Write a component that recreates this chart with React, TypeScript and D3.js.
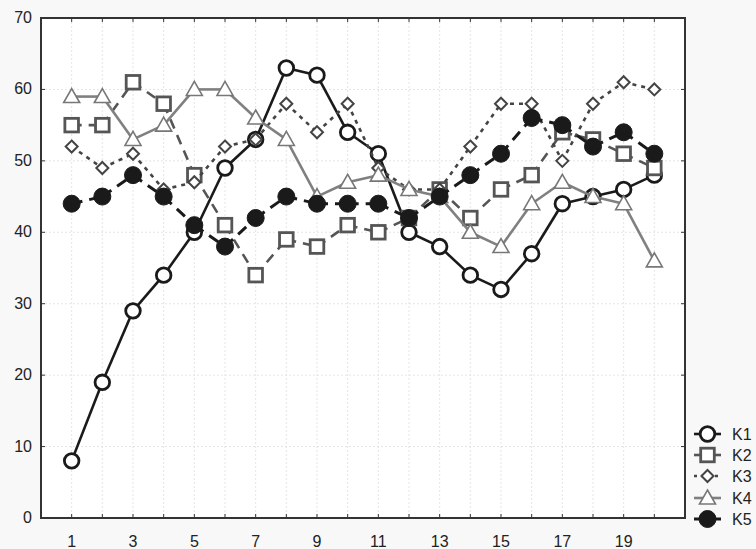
import React from "react";
import * as d3 from "d3";

const xs = d3.range(1, 21);
const k1 = [8, 19, 29, 34, 40, 49, 53, 63, 62, 54, 51, 40, 38, 34, 32, 37, 44, 45, 46, 48];
const k2 = [55, 55, 61, 58, 48, 41, 34, 39, 38, 41, 40, 42, 46, 42, 46, 48, 54, 53, 51, 49];
const k3 = [52, 49, 51, 46, 47, 52, 53, 58, 54, 58, 49, 46, 46, 52, 58, 58, 50, 58, 61, 60];
const k4 = [59, 59, 53, 55, 60, 60, 56, 53, 45, 47, 48, 46, 45, 40, 38, 44, 47, 45, 44, 36];
const k5 = [44, 45, 48, 45, 41, 38, 42, 45, 44, 44, 44, 42, 45, 48, 51, 56, 55, 52, 54, 51];
const seriesNames = ["K1", "K2", "K3", "K4", "K5"];
const xTickLabels = [1, 3, 5, 7, 9, 11, 13, 15, 17, 19];
const yTicks = [0, 10, 20, 30, 40, 50, 60, 70];

const W = 756, H = 549;
const L = 41, R = 685, T = 18, B = 518;

type Style = { color: string; dash: string; width: number; marker: string; fill: string; mstroke: string };
const styles: Style[] = [
  { color: "#1a1a1a", dash: "", width: 2.6, marker: "circle", fill: "#fff", mstroke: "#1a1a1a" },
  { color: "#555", dash: "10,7", width: 2.6, marker: "square", fill: "#fff", mstroke: "#555" },
  { color: "#444", dash: "4,5", width: 2.6, marker: "diamond", fill: "#fff", mstroke: "#444" },
  { color: "#808080", dash: "", width: 2.6, marker: "triangle", fill: "#fff", mstroke: "#777" },
  { color: "#1a1a1a", dash: "11,7", width: 3, marker: "fcircle", fill: "#1a1a1a", mstroke: "#1a1a1a" },
];

function Marker({ type, x, y, s }: { type: string; x: number; y: number; s: Style }) {
  if (type === "circle")
    return <circle cx={x} cy={y} r={7.3} fill={s.fill} stroke={s.mstroke} strokeWidth={2.8} />;
  if (type === "fcircle")
    return <circle cx={x} cy={y} r={8.5} fill={s.fill} stroke={s.mstroke} strokeWidth={1} />;
  if (type === "square")
    return <rect x={x - 6.8} y={y - 6.8} width={13.6} height={13.6} fill={s.fill} stroke={s.mstroke} strokeWidth={2.8} />;
  if (type === "diamond")
    return <path d={`M${x},${y - 6}L${x + 6},${y}L${x},${y + 6}L${x - 6},${y}Z`} fill={s.fill} stroke={s.mstroke} strokeWidth={2} />;
  return <path d={`M${x},${y - 8}L${x + 8},${y + 6}L${x - 8},${y + 6}Z`} fill={s.fill} stroke={s.mstroke} strokeWidth={1.6} />;
}

export default function App() {
  const x = d3.scaleLinear().domain([0, 21]).range([L, R]);
  const y = d3.scaleLinear().domain([0, 70]).range([B, T]);
  const data = [k1, k2, k3, k4, k5];
  const font = "'Liberation Sans', Arial, sans-serif";
  const legendY = [434, 455, 476, 498, 519];

  return (
    <svg width={W} height={H} style={{ position: "absolute", left: 0, top: 0, background: "#f8f8f8" }} fontFamily={font}>
      <rect x={0} y={0} width={W} height={H} fill="#f8f8f8" />
      <rect x={L} y={T} width={R - L} height={B - T} fill="#fff" />
      {xs.map((v) => (
        <line key={"gx" + v} x1={x(v)} x2={x(v)} y1={T} y2={B} stroke="#ddd" strokeWidth={0.8} strokeDasharray="2,2" />
      ))}
      {yTicks.slice(1, -1).map((v) => (
        <line key={"gy" + v} x1={L} x2={R} y1={y(v)} y2={y(v)} stroke="#ddd" strokeWidth={0.8} strokeDasharray="2,2" />
      ))}
      {xs.map((v) => (
        <g key={"tx" + v}>
          <line x1={x(v)} x2={x(v)} y1={B} y2={B - 4} stroke="#333" strokeWidth={1} />
          <line x1={x(v)} x2={x(v)} y1={T} y2={T + 4} stroke="#333" strokeWidth={1} />
        </g>
      ))}
      {yTicks.map((v) => (
        <g key={"ty" + v}>
          <line x1={L} x2={L + 4} y1={y(v)} y2={y(v)} stroke="#333" strokeWidth={1} />
          <line x1={R} x2={R - 4} y1={y(v)} y2={y(v)} stroke="#333" strokeWidth={1} />
        </g>
      ))}
      <rect x={L} y={T} width={R - L} height={B - T} fill="none" stroke="#333" strokeWidth={2} />
      {xTickLabels.map((v) => (
        <text key={"lx" + v} x={x(v)} y={547} textAnchor="middle" fontSize={16} fill="#222">{v}</text>
      ))}
      {yTicks.map((v) => (
        <text key={"ly" + v} x={32} y={y(v) + 5} textAnchor="end" fontSize={16} fill="#222">{v}</text>
      ))}
      {data.map((vals, si) => {
        const s = styles[si];
        return (
          <g key={"s" + si}>
            {vals.slice(1).map((v, i) => (
              <line key={i} x1={x(xs[i])} y1={y(vals[i])} x2={x(xs[i + 1])} y2={y(v)} stroke={s.color} strokeWidth={s.width} strokeDasharray={s.dash || undefined} />
            ))}
            {vals.map((v, i) => (
              <Marker key={"m" + i} type={s.marker} x={x(xs[i])} y={y(v)} s={s} />
            ))}
          </g>
        );
      })}
      {seriesNames.map((n, i) => {
        const s = styles[i];
        const ly = legendY[i];
        return (
          <g key={"lg" + n}>
            <line x1={694} x2={721} y1={ly} y2={ly} stroke={s.color} strokeWidth={s.width} strokeDasharray={i === 2 ? "3,4" : undefined} />
            <Marker type={s.marker} x={707.5} y={ly} s={s} />
            <text x={732} y={ly + 6} fontSize={16} fill="#222">{n}</text>
          </g>
        );
      })}
    </svg>
  );
}
